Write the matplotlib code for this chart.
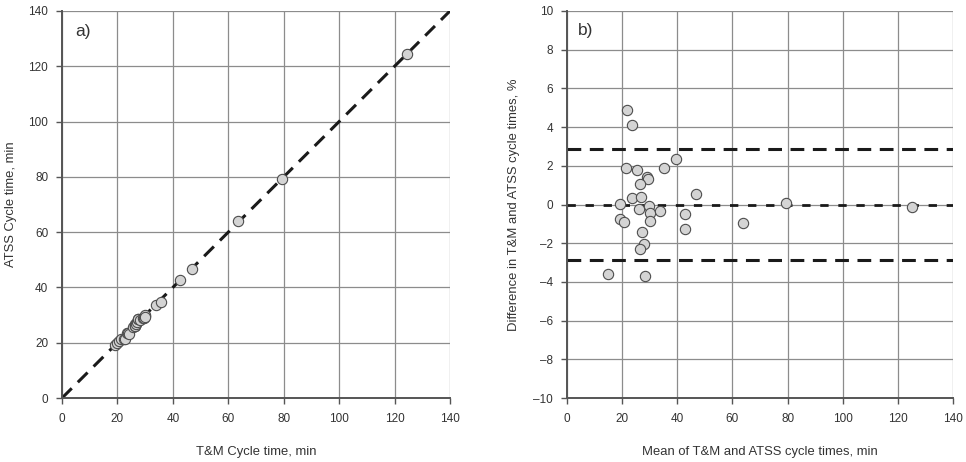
import matplotlib
matplotlib.use('Agg')
from matplotlib import pyplot as plt

plt.rcParams['font.family'] = ['Liberation Sans', 'DejaVu Sans']
plt.rcParams['font.size'] = 8.5

# panel a) T&M vs ATSS cycle time, min
tm_time = [19.1, 20.0, 20.7, 21.4, 22.4, 22.7, 23.6, 23.9, 24.2, 25.7, 26.2,
           26.3, 26.5, 26.8, 27.1, 27.5, 27.6, 28.1, 29.2, 29.5, 29.8, 29.9,
           30.0, 33.8, 35.6, 42.6, 47.0, 63.6, 79.3, 124.5]
atss_time = [19.2, 19.9, 20.7, 21.2, 21.4, 21.3, 23.4, 23.4, 23.2, 25.6, 26.2,
             26.8, 26.2, 26.9, 27.5, 28.5, 28.6, 28.1, 28.8, 29.1, 29.8, 30.1,
             29.2, 33.6, 34.6, 42.7, 46.8, 64.2, 79.3, 124.6]

# panel b) mean vs difference, %
mean_time = [21.9, 23.7, 39.5, 21.4, 25.5, 35.1, 29.0, 29.3, 26.4, 46.9, 23.6,
             26.7, 19.2, 29.8, 26.2, 30.0, 33.7, 42.8, 19.2, 20.8, 30.0, 42.8,
             27.3, 27.8, 26.6, 15.0, 28.1, 63.9, 79.3, 125.0]
diff_pct = [4.88, 4.11, 2.33, 1.87, 1.78, 1.90, 1.40, 1.30, 1.04, 0.56, 0.35,
            0.40, 0.01, -0.08, -0.25, -0.46, -0.34, -0.49, -0.77, -0.89, -0.84,
            -1.27, -1.40, -2.02, -2.32, -3.61, -3.71, -0.97, 0.09, -0.11]
mean_diff = 0.0
upper_loa = 2.88
lower_loa = -2.88

grid_col = '#8c8c8c'
axis_col = '#555555'
text_col = '#333333'

fig = plt.figure(figsize=(9.66, 4.62), dpi=100)
ax1 = fig.add_axes([0.0642, 0.1385, 0.4016, 0.8377])
ax2 = fig.add_axes([0.587, 0.1385, 0.3995, 0.8377])


def style(ax):
	ax.grid(True, color=grid_col, linewidth=0.9)
	ax.set_axisbelow(True)
	for s in ['top', 'right']:
		ax.spines[s].set_visible(False)
	for s in ['left', 'bottom']:
		ax.spines[s].set_color(axis_col)
		ax.spines[s].set_linewidth(1.4)
	ax.tick_params(colors=axis_col, labelcolor=text_col, labelsize=8.5,
		length=4, width=1.0)
	ax.tick_params(axis='x', pad=7)
	ax.tick_params(axis='y', pad=6)


# a)
style(ax1)
ax1.plot([0, 140], [0, 140], color='#1a1a1a', linewidth=2.2,
	dashes=(4.5, 2.8), zorder=2)
ax1.scatter(tm_time, atss_time, s=55, facecolor='#d4d4d4',
	edgecolor='#4d4d4d', linewidth=0.8, zorder=3)
ax1.set_xlim(0, 140)
ax1.set_ylim(0, 140)
ax1.set_xticks(range(0, 141, 20))
ax1.set_yticks(range(0, 141, 20))
ax1.set_xlabel('T&M Cycle time, min', color=text_col, fontsize=9.4,
	labelpad=15)
ax1.set_ylabel('ATSS Cycle time, min', color=text_col, fontsize=9.4,
	labelpad=8)
ax1.text(4.8, 132.5, 'a)', fontsize=12.5, color=text_col, va='center')

# b)
style(ax2)
ax2.axhline(upper_loa, color='#1a1a1a', linewidth=2.2, dashes=(4.5, 2.8),
	zorder=2)
ax2.axhline(lower_loa, color='#1a1a1a', linewidth=2.2, dashes=(4.5, 2.8),
	zorder=2)
ax2.axhline(mean_diff, color='#1a1a1a', linewidth=2.0, dashes=(3, 3.5),
	zorder=2)
ax2.scatter(mean_time, diff_pct, s=55, facecolor='#d4d4d4',
	edgecolor='#4d4d4d', linewidth=0.8, zorder=3)
ax2.set_xlim(0, 140)
ax2.set_ylim(-10, 10)
ax2.set_xticks(range(0, 141, 20))
ax2.set_yticks(range(-10, 11, 2))
ax2.set_yticklabels([str(v).replace('-', '\u2013') for v in range(-10, 11, 2)])
ax2.set_xlabel('Mean of T&M and ATSS cycle times, min', color=text_col,
	fontsize=9.4, labelpad=15)
ax2.set_ylabel('Difference in T&M and ATSS cycle times, %', color=text_col,
	fontsize=9.4, labelpad=10)
ax2.text(4.0, 9.0, 'b)', fontsize=12.5, color=text_col, va='center')

fig.savefig('out.png', dpi=100)
